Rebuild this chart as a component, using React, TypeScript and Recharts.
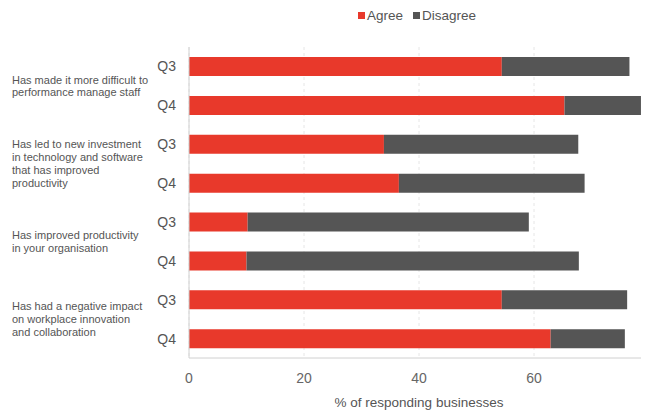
import { Bar, BarChart, CartesianGrid, Legend, XAxis, YAxis } from "recharts";

const quarters = ["Q3", "Q4", "Q3", "Q4", "Q3", "Q4", "Q3", "Q4"];
const agree = [54.4, 65.3, 33.9, 36.5, 10.2, 10.0, 54.4, 62.9];
const disagree = [22.2, 13.3, 33.8, 32.3, 48.9, 57.8, 21.8, 12.9];
const groupLabels = [
  ["Has made it more difficult to", "performance manage staff"],
  ["Has led to new investment", "in technology and software", "that has improved", "productivity"],
  ["Has improved productivity", "in your organisation"],
  ["Has had a negative impact", "on workplace innovation", "and collaboration"],
];
const xTicks = [0, 20, 40, 60, 80];

const data = quarters.map((q, i) => ({
  id: i,
  quarter: q,
  agree: agree[i],
  disagree: disagree[i],
}));

const FONT = "'Liberation Sans', Arial, sans-serif";

function QuarterTick(props: any) {
  const { x, y, payload, index } = props;
  const i = index ?? payload.index;
  const group = i % 2 === 0 ? groupLabels[i / 2] : null;
  const lh = 12.8;
  return (
    <g>
      <text x={x - 5} y={y} dy={5} textAnchor="end" fontSize={14} fill="#555" fontFamily={FONT}>
        {quarters[i]}
      </text>
      {group && (
        <text x={4} y={y + 19.5 - ((group.length - 1) * lh) / 2 + 4} fontSize={11} fill="#555" fontFamily={FONT}>
          {group.map((line, k) => (
            <tspan key={k} x={4} dy={k === 0 ? 0 : lh}>
              {line}
            </tspan>
          ))}
        </text>
      )}
    </g>
  );
}

function LegendContent() {
  const items = [
    { label: "Agree", color: "#e8392b" },
    { label: "Disagree", color: "#555555" },
  ];
  return (
    <div style={{ display: "flex", gap: 10, marginLeft: 350, fontFamily: FONT, fontSize: 13.5, color: "#555" }}>
      {items.map((it) => (
        <span key={it.label} style={{ display: "flex", alignItems: "center" }}>
          <span style={{ width: 7, height: 7, background: it.color, display: "inline-block", marginRight: 2 }} />
          {it.label}
        </span>
      ))}
    </div>
  );
}

export default function App() {
  return (
    <BarChart
      width={641}
      height={411}
      data={data}
      layout="vertical"
      margin={{ top: 24, right: 0, left: 0, bottom: 0 }}
      style={{ background: "#fff" }}
    >
      <Legend verticalAlign="top" content={<LegendContent />} wrapperStyle={{ top: 0, left: 0 }} />
      <CartesianGrid horizontal={false} stroke="#e6e6e6" strokeDasharray="3 3" />
      <XAxis
        type="number"
        domain={[0, 80]}
        ticks={xTicks}
        tickLine={false}
        stroke="#d0d0d0"
        tick={{ fill: "#666", fontSize: 14, fontFamily: FONT }}
        tickMargin={9}
        height={61}
        interval={0}
        label={{
          value: "% of responding businesses",
          position: "insideBottom",
          offset: 12,
          fill: "#555",
          fontSize: 13.5,
          fontFamily: FONT,
        }}
      />
      <YAxis
        type="category"
        dataKey="id"
        width={181}
        tickLine={false}
        stroke="#d0d0d0"
        interval={0}
        tick={<QuarterTick />}
      />
      <Bar dataKey="agree" stackId="a" fill="#e8392b" barSize={19} isAnimationActive={false} />
      <Bar dataKey="disagree" stackId="a" fill="#555555" barSize={19} isAnimationActive={false} />
    </BarChart>
  );
}
